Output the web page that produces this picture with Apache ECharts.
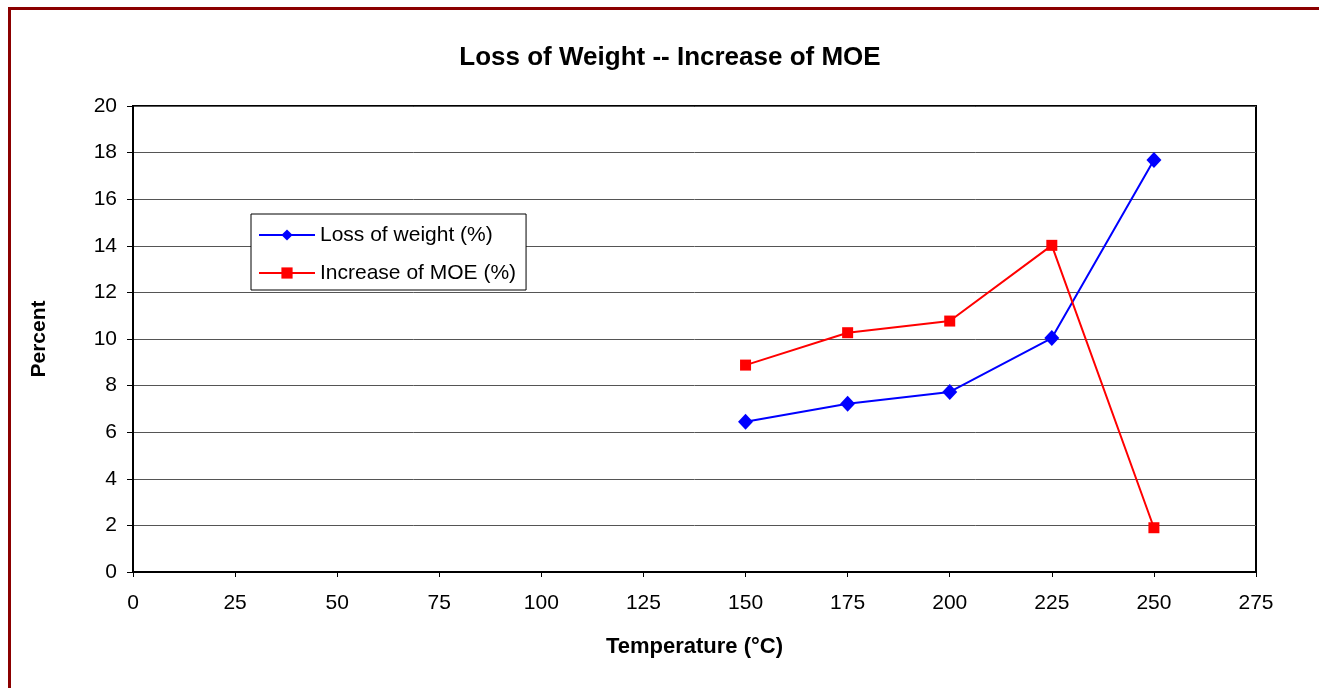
<!DOCTYPE html>
<html>
<head>
<meta charset="utf-8">
<script src="https://cdn.jsdelivr.net/npm/echarts@6/dist/echarts.min.js"></script>
<style>
html,body{margin:0;padding:0;background:#fff;}
#c{width:1319px;height:688px;}
</style>
</head>
<body>
<div id="c"></div>
<script>
const temperatures = [150, 175, 200, 225, 250];
const lossOfWeight = [6.45, 7.22, 7.73, 10.04, 17.68];
const increaseOfMOE = [8.88, 10.27, 10.77, 14.02, 1.9];
const xTicks = [0, 25, 50, 75, 100, 125, 150, 175, 200, 225, 250, 275];
const yTicks = [0, 2, 4, 6, 8, 10, 12, 14, 16, 18, 20];

const FONT = "'Liberation Sans', Arial, sans-serif";
const chart = echarts.init(document.getElementById('c'), null, {renderer: 'canvas'});
chart.setOption({
  animation: false,
  backgroundColor: '#fff',
  graphic: [{
    type: 'rect', left: 7, top: 6,
    shape: {x: 0, y: 0, width: 1400, height: 800},
    style: {fill: 'none', stroke: '#8B0000', lineWidth: 3},
    z: 100
  }],
  title: {
    text: 'Loss of Weight -- Increase of MOE',
    left: 665, textAlign: 'center', top: 40,
    textStyle: {fontFamily: FONT, fontSize: 26, fontWeight: 'bold', color: '#000'}
  },
  legend: {
    orient: 'vertical',
    left: 251, top: 214,
    padding: [10, 10, 6, 7],
    backgroundColor: '#fff',
    borderColor: '#000', borderWidth: 1,
    itemWidth: 56, itemHeight: 14, itemGap: 16,
    textStyle: {fontFamily: FONT, fontSize: 21, color: '#000', lineHeight: 22},
    data: ['Loss of weight (%)', 'Increase of MOE (%)']
  },
  grid: {
    left: 133, right: 63, top: 106, bottom: 116,
    show: true, borderColor: '#000', borderWidth: 2
  },
  xAxis: {
    type: 'value', min: 0, max: 275, interval: 25,
    name: 'Temperature (°C)', nameLocation: 'middle', nameGap: 64,
    nameTextStyle: {fontFamily: FONT, fontSize: 22, fontWeight: 'bold', color: '#000'},
    axisLine: {lineStyle: {color: '#000', width: 2}},
    axisTick: {show: true, length: 5, lineStyle: {color: '#000'}},
    axisLabel: {margin: 21, fontFamily: FONT, fontSize: 21, color: '#000',
      formatter: v => xTicks.includes(v) ? String(v) : ''},
    splitLine: {show: false}
  },
  yAxis: {
    type: 'value', min: 0, max: 20, interval: 2,
    name: 'Percent', nameLocation: 'middle', nameGap: 83, nameRotate: 90,
    nameTextStyle: {fontFamily: FONT, fontSize: 21, fontWeight: 'bold', color: '#000'},
    axisLine: {show: true, lineStyle: {color: '#000', width: 2}},
    axisTick: {show: true, length: 6, lineStyle: {color: '#000'}},
    axisLabel: {margin: 16, fontFamily: FONT, fontSize: 21, color: '#000',
      formatter: v => yTicks.includes(v) ? String(v) : ''},
    splitLine: {show: true, lineStyle: {color: '#555', width: 1}}
  },
  series: [
    {
      name: 'Loss of weight (%)', type: 'line',
      data: temperatures.map((t, i) => [t, lossOfWeight[i]]),
      symbol: 'diamond', symbolSize: [15, 16],
      lineStyle: {color: '#0000FF', width: 2},
      itemStyle: {color: '#0000FF'}
    },
    {
      name: 'Increase of MOE (%)', type: 'line',
      data: temperatures.map((t, i) => [t, increaseOfMOE[i]]),
      symbol: 'rect', symbolSize: 11,
      lineStyle: {color: '#FF0000', width: 2},
      itemStyle: {color: '#FF0000'}
    }
  ]
});
</script>
</body>
</html>
